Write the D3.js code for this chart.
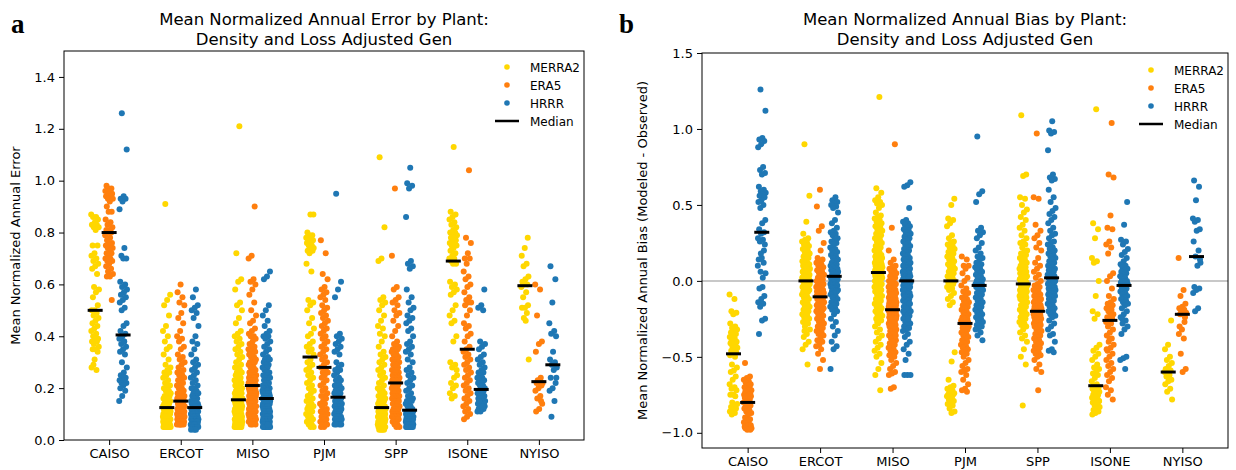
<!DOCTYPE html>
<html>
<head>
<meta charset="utf-8">
<script src="https://cdn.jsdelivr.net/npm/d3@7"></script>
<style>
  body { margin: 0; background: #fff; }
  text { font-family: "DejaVu Sans", sans-serif; fill: #000; }
</style>
</head>
<body>
<script>
var W = 1236, H = 470;

var regions = ["CAISO", "ERCOT", "MISO", "PJM", "SPP", "ISONE", "NYISO"];
var models = ["MERRA2", "ERA5", "HRRR"];
var colors = ["#ffd700", "#ff7f0e", "#1f77b4"];

// values per plant, in hundredths, one sub-array per region (same order as regions)
var errMERRA2 = [
  [87,86,86,85,84,83,83,82,82,81,75,75,72,71,70,69,68,67,66,64,59,58,57,55,52,50,50,49,48,47,46,45,44,43,42,41,40,39,39,38,38,37,36,35,35,34,31,28,27,29],
  [91,56,54,52,48,44,42,40,38,36,35,33,31,29,28,27,26,26,25,24,23,22,21,21,20,19,19,18,18,17,17,16,16,15,15,15,14,14,14,13,13,13,13,12,12,12,12,12,11,11,11,11,11,10,10,10,10,10,9,9,9,9,9,9,8,8,8,8,8,8,7,7,7,7,7,7,6,6,6,6,6,6,5,5,5,5,5,5,5,5],
  [121,72,62,61,58,53,52,50,47,45,42,41,40,39,38,37,36,35,34,33,32,31,30,29,28,28,27,26,26,25,25,24,24,23,23,22,22,21,21,21,20,20,20,19,19,19,18,18,18,18,17,17,17,17,16,16,16,16,16,16,16,16,16,16,16,15,15,15,15,15,14,14,14,14,14,13,13,13,13,13,12,12,12,12,12,11,11,11,11,11,10,10,10,10,10,9,9,9,9,9,9,8,8,8,8,8,8,7,7,7,7,7,7,6,6,6,6,6,6,5,5,5,5,5,5,5,6,7,8,9],
  [87,87,80,79,79,78,78,77,77,76,76,75,75,74,74,73,73,72,68,65,54,53,52,50,47,45,43,41,40,38,37,36,35,34,33,31,30,29,28,27,26,25,24,23,22,21,20,19,18,17,16,15,15,14,13,13,12,12,11,10,10,9,9,8,8,7,6,6,5,5],
  [109,82,70,69,55,54,53,52,50,48,46,44,43,41,40,38,36,34,33,32,31,30,29,28,27,26,25,24,23,22,21,20,20,19,19,18,18,17,17,16,16,15,15,15,14,14,14,13,13,13,12,12,12,12,12,11,11,11,11,11,10,10,10,10,10,10,9,9,9,9,9,9,8,8,8,8,8,8,7,7,7,7,7,7,6,6,6,6,6,6,5,5,5,5,5,5,4,4,4,4],
  [113,88,87,86,85,84,83,82,81,80,80,79,79,78,78,77,77,76,76,75,75,74,73,72,71,70,70,69,68,68,61,60,59,58,57,56,52,50,48,46,45,40,38,30,29,28,25,24,22,21,20,18,17,16,27],
  [78,74,71,68,67,63,62,61,60,60,59,57,55,52,51,51,49,47,31,46]
];
var errERA5 = [
  [98,97,97,96,96,96,95,95,94,94,93,93,92,90,88,88,85,84,83,82,81,81,80,80,79,78,77,76,76,75,75,74,74,73,72,72,71,70,70,69,69,68,67,66,65,64,63,63,54,70],
  [60,57,55,53,52,49,47,45,42,40,39,38,36,35,33,32,31,30,29,28,27,26,26,25,25,24,23,23,22,21,21,20,20,19,19,18,18,18,17,17,17,16,16,16,15,15,15,14,14,14,14,13,13,13,13,12,12,12,12,11,11,11,11,10,10,10,10,10,9,9,9,9,9,8,8,8,8,8,7,7,7,7,7,7,6,6,6,6,6,6],
  [90,71,70,62,61,60,58,56,53,50,48,46,45,43,42,41,40,40,39,38,37,36,36,35,35,34,34,33,33,32,32,31,31,30,30,29,29,28,28,27,27,26,26,26,25,25,25,24,24,24,24,23,23,23,23,22,22,22,22,22,21,21,21,21,21,21,21,20,20,20,20,20,19,19,19,19,19,18,18,18,18,18,17,17,17,17,17,16,16,16,16,15,15,15,15,14,14,14,14,13,13,13,13,12,12,12,12,11,11,11,11,10,10,10,10,9,9,9,9,8,8,8,8,7,7,7,7,6,6,6],
  [77,72,64,62,59,58,57,56,55,54,52,51,50,49,48,47,46,45,44,43,42,41,40,39,38,37,36,35,34,33,32,31,30,29,28,27,26,26,25,24,23,22,21,20,19,18,17,17,16,15,14,14,13,12,12,11,11,10,10,9,9,8,8,7,7,6,6,5,5,6],
  [97,71,59,58,55,54,53,52,50,49,48,46,44,42,40,38,37,36,36,35,35,34,34,33,33,32,32,31,31,30,30,29,29,28,28,27,27,26,26,26,25,25,25,24,24,24,23,23,23,22,22,22,21,21,21,20,20,20,19,19,19,18,18,18,17,17,17,16,16,16,15,15,15,14,14,14,13,13,13,12,12,12,11,11,11,10,10,10,9,9,9,8,8,8,7,7,6,6,5,5],
  [104,78,76,72,70,70,68,65,63,62,60,59,57,55,54,53,53,52,50,48,45,44,43,41,40,38,36,35,34,33,32,31,30,29,28,27,26,25,24,23,22,21,20,19,18,17,16,15,14,13,12,11,10,9,8],
  [60,58,48,38,37,34,24,23,22,22,22,21,20,19,17,16,14,12,11,15]
];
var errHRRR = [
  [126,112,94,93,93,92,89,74,71,70,70,61,60,59,58,57,56,55,54,53,51,50,45,44,42,41,40,39,38,37,36,35,34,33,30,28,26,25,24,24,23,23,22,22,21,20,19,17,15,38],
  [58,55,52,51,50,49,47,44,40,38,37,35,33,31,30,29,28,27,26,25,24,23,22,21,20,20,19,18,18,17,17,16,16,15,15,15,14,14,14,13,13,13,13,12,12,12,12,12,11,11,11,11,10,10,10,10,10,9,9,9,9,9,8,8,8,8,8,8,7,7,7,7,7,7,6,6,6,6,6,6,5,5,5,5,5,5,5,4,4,4],
  [65,63,62,52,50,48,46,44,42,41,40,40,39,38,37,36,35,34,33,32,31,31,30,30,29,29,28,28,27,26,26,25,25,24,24,23,23,22,22,21,21,21,20,20,20,19,19,19,19,18,18,18,18,18,17,17,17,17,17,17,16,16,16,16,16,16,16,16,15,15,15,15,15,14,14,14,14,14,13,13,13,13,13,12,12,12,12,12,11,11,11,11,11,10,10,10,10,10,9,9,9,9,9,9,8,8,8,8,8,8,7,7,7,7,7,7,6,6,6,6,6,6,5,5,5,5,5,5,5,6],
  [95,61,58,55,41,40,39,38,37,36,35,34,33,30,29,28,27,27,26,25,24,23,23,22,21,21,20,20,19,19,18,18,18,17,17,16,16,15,15,15,14,14,14,13,13,13,12,12,12,11,11,11,10,10,10,9,9,9,8,8,8,8,7,7,7,7,6,6,6,6],
  [105,99,98,97,86,69,68,67,66,58,55,53,51,50,48,47,46,45,43,42,40,38,37,36,35,34,33,31,30,28,27,26,25,24,23,22,21,20,19,18,17,16,16,15,15,14,14,13,13,12,12,11,11,11,11,11,10,10,10,10,10,10,9,9,9,9,9,9,9,8,8,8,8,8,8,8,8,7,7,7,7,7,7,7,6,6,6,6,6,6,6,6,5,5,5,5,5,5,5,5],
  [58,52,51,50,38,37,36,35,33,32,31,30,29,28,27,26,26,25,24,24,23,23,22,22,21,21,20,19,19,19,18,18,18,17,17,17,16,16,16,15,15,15,14,14,14,13,13,13,12,12,12,11,11,13,15],
  [67,62,53,45,42,41,40,34,31,30,29,28,27,24,22,20,19,15,9,24]
];

var biasMERRA2 = [
  [-9,-12,-20,-21,-22,-28,-30,-31,-32,-33,-34,-35,-36,-37,-38,-39,-40,-40,-41,-42,-43,-44,-45,-46,-47,-48,-49,-50,-55,-57,-59,-60,-63,-65,-68,-70,-71,-72,-75,-75,-76,-80,-81,-82,-83,-84,-85,-86,-87,-88],
  [90,56,39,31,28,27,26,25,24,23,22,21,20,19,18,17,16,15,14,13,12,12,11,10,10,9,9,8,8,7,7,6,6,5,5,4,4,3,3,3,2,2,1,1,0,0,-1,-1,-2,-2,-3,-3,-4,-4,-5,-5,-6,-6,-7,-7,-8,-9,-10,-11,-12,-13,-14,-15,-16,-17,-18,-19,-20,-21,-22,-23,-24,-25,-26,-27,-28,-30,-32,-35,-37,-40,-42,-45,-55,-33],
  [121,61,58,55,53,52,51,50,48,45,43,42,41,40,39,38,37,36,35,34,33,32,31,30,29,28,27,26,25,24,23,22,21,20,19,18,17,17,16,16,15,15,14,14,13,13,12,12,11,11,10,10,9,9,9,8,8,8,7,7,7,6,6,6,6,5,5,5,4,4,4,3,3,3,2,2,2,1,1,0,0,-1,-1,-2,-2,-3,-3,-4,-4,-5,-5,-6,-6,-7,-8,-9,-10,-11,-12,-13,-14,-15,-16,-17,-18,-19,-20,-21,-22,-23,-24,-25,-26,-28,-30,-32,-34,-36,-38,-40,-42,-44,-46,-48,-50,-54,-58,-62,-72,-27],
  [54,50,41,40,38,36,30,28,26,25,24,23,22,21,20,19,18,17,16,15,14,13,12,11,10,9,8,7,6,5,4,3,2,1,0,0,-1,-2,-3,-4,-5,-6,-8,-10,-12,-14,-16,-47,-53,-65,-69,-70,-71,-72,-73,-74,-74,-75,-75,-76,-76,-77,-78,-79,-80,-81,-82,-84,-86,-87],
  [109,70,69,55,54,50,47,45,42,40,37,35,33,30,28,26,25,24,22,20,19,18,17,16,15,14,13,12,11,10,9,9,8,7,6,6,5,5,4,4,3,3,2,2,1,1,0,0,-1,-1,-2,-2,-3,-3,-4,-4,-5,-5,-6,-6,-7,-7,-8,-8,-9,-9,-10,-10,-11,-11,-12,-12,-13,-13,-14,-15,-16,-17,-18,-19,-20,-21,-22,-23,-24,-25,-26,-27,-28,-29,-30,-32,-34,-36,-38,-40,-45,-50,-55,-82],
  [113,38,34,28,15,13,12,0,-10,-20,-22,-25,-42,-44,-46,-48,-50,-52,-55,-57,-58,-60,-61,-62,-64,-66,-68,-69,-70,-70,-71,-72,-72,-73,-74,-75,-75,-76,-77,-78,-78,-79,-80,-80,-81,-82,-83,-84,-85,-86,-87,-88,-77,-73,-79],
  [-26,-42,-45,-50,-52,-54,-56,-58,-59,-60,-60,-62,-63,-65,-66,-68,-71,-73,-78,-64]
];
var biasERA5 = [
  [-54,-63,-64,-65,-66,-67,-68,-69,-70,-70,-71,-72,-72,-73,-74,-74,-75,-75,-76,-76,-77,-77,-78,-79,-80,-80,-81,-82,-83,-84,-85,-86,-87,-88,-90,-91,-92,-93,-94,-94,-95,-95,-96,-96,-96,-97,-97,-97,-98,-98],
  [60,49,36,33,25,20,15,14,13,12,11,10,9,8,7,6,5,4,3,2,1,0,0,-1,-1,-2,-2,-3,-3,-4,-4,-5,-5,-6,-6,-7,-7,-8,-8,-9,-9,-9,-10,-10,-10,-11,-11,-12,-12,-13,-13,-14,-14,-15,-15,-16,-16,-17,-17,-18,-18,-19,-19,-20,-20,-21,-22,-23,-24,-25,-26,-27,-28,-29,-30,-31,-32,-33,-34,-35,-36,-38,-39,-40,-42,-43,-45,-48,-52,-58],
  [90,35,20,14,12,10,9,8,7,6,5,4,3,2,1,0,-1,-1,-2,-2,-3,-3,-4,-4,-5,-5,-6,-6,-7,-7,-8,-8,-9,-9,-10,-10,-11,-11,-12,-12,-12,-13,-13,-13,-14,-14,-14,-15,-15,-15,-16,-16,-16,-16,-17,-17,-17,-17,-18,-18,-18,-18,-18,-19,-19,-19,-19,-20,-20,-20,-20,-21,-21,-21,-21,-22,-22,-22,-23,-23,-23,-24,-24,-24,-25,-25,-25,-26,-26,-27,-27,-28,-28,-29,-29,-30,-30,-31,-31,-32,-32,-33,-34,-35,-36,-37,-38,-39,-40,-41,-42,-43,-44,-45,-46,-47,-48,-49,-50,-52,-54,-56,-58,-60,-61,-62,-70,-71,-36,-40],
  [16,14,10,10,8,5,2,0,-3,-5,-7,-8,-10,-11,-12,-13,-14,-15,-16,-17,-18,-19,-20,-21,-22,-23,-24,-25,-25,-26,-26,-27,-27,-28,-28,-29,-29,-30,-30,-31,-32,-33,-34,-35,-36,-37,-38,-39,-40,-41,-42,-43,-44,-45,-46,-47,-48,-50,-52,-54,-56,-58,-59,-60,-62,-65,-68,-71,-72,-73],
  [97,55,54,37,33,30,28,25,22,20,15,12,10,8,6,4,2,0,-2,-3,-4,-5,-6,-7,-8,-9,-10,-10,-11,-11,-12,-12,-13,-13,-14,-14,-15,-15,-16,-16,-17,-17,-17,-18,-18,-18,-19,-19,-19,-20,-20,-20,-21,-21,-21,-22,-22,-22,-23,-23,-23,-24,-24,-25,-25,-26,-26,-27,-27,-28,-28,-29,-29,-30,-30,-31,-32,-33,-34,-35,-36,-37,-38,-39,-40,-41,-42,-43,-44,-45,-46,-47,-48,-49,-50,-52,-55,-58,-60,-72],
  [104,70,68,43,35,34,26,24,22,18,5,3,0,-5,-10,-12,-14,-15,-16,-17,-18,-19,-20,-22,-23,-24,-25,-26,-27,-28,-30,-32,-34,-36,-38,-40,-42,-44,-46,-48,-50,-52,-54,-56,-58,-60,-62,-64,-66,-70,-72,-75,-78,-38,-45],
  [15,-6,-10,-15,-17,-18,-19,-20,-21,-22,-22,-24,-32,-35,-38,-48,-58,-60,-30,-27]
];
var biasHRRR = [
  [126,112,94,93,92,90,88,75,73,71,70,62,60,59,58,57,56,55,53,52,50,48,40,38,34,32,31,28,27,26,24,15,14,12,6,5,-4,-5,-10,-12,-14,-15,-17,-25,-26,-35,20,18,10,2],
  [55,53,52,51,50,49,48,45,40,38,35,33,32,31,30,28,27,26,25,24,22,21,20,19,18,17,16,15,14,13,12,11,10,10,9,9,8,8,7,7,6,6,5,4,4,3,2,2,1,1,0,0,-1,-1,-2,-2,-3,-3,-4,-4,-5,-5,-6,-6,-7,-7,-8,-9,-10,-11,-12,-13,-14,-15,-16,-17,-18,-19,-20,-22,-25,-27,-30,-33,-36,-40,-43,-45,-58,-20],
  [65,63,62,48,40,39,38,37,36,35,34,33,32,31,30,29,28,27,26,25,24,23,22,21,20,19,18,17,16,15,14,14,13,13,12,12,11,11,10,10,9,9,8,8,7,7,6,6,5,5,5,4,4,3,3,3,2,2,2,1,1,1,0,0,0,0,0,-1,-1,-1,-2,-2,-2,-3,-3,-3,-4,-4,-5,-5,-6,-6,-7,-7,-8,-8,-9,-9,-10,-10,-11,-11,-12,-12,-13,-13,-14,-15,-16,-17,-18,-19,-20,-21,-22,-23,-24,-25,-26,-27,-28,-29,-30,-31,-32,-33,-35,-37,-40,-42,-45,-48,-52,-62,-62,-62,-15,-18,-20,-25],
  [95,59,57,52,35,33,32,30,28,25,22,20,18,16,15,14,12,11,10,9,8,7,6,5,4,3,2,1,0,0,-1,-1,-2,-2,-3,-3,-4,-4,-5,-5,-6,-7,-8,-9,-10,-11,-12,-13,-14,-15,-16,-17,-18,-19,-20,-21,-22,-23,-24,-25,-26,-27,-28,-29,-30,-31,-32,-34,-36,-39],
  [105,99,98,97,86,70,68,67,66,60,55,52,48,46,44,42,40,38,35,33,31,30,28,26,25,24,22,21,20,19,18,17,16,15,14,13,12,11,10,9,8,8,7,7,6,5,4,4,3,3,2,2,1,1,0,0,-1,-1,-2,-2,-3,-3,-4,-4,-5,-5,-6,-6,-7,-7,-8,-8,-9,-9,-10,-10,-11,-12,-13,-14,-15,-16,-17,-18,-19,-20,-21,-22,-23,-24,-26,-28,-30,-32,-35,-36,-40,-45,-46,-47],
  [52,37,27,26,24,21,19,17,15,13,11,10,9,8,7,6,5,4,3,2,1,0,0,-1,-1,-2,-2,-3,-4,-5,-6,-7,-8,-9,-10,-11,-12,-13,-14,-15,-16,-18,-20,-22,-24,-26,-28,-30,-32,-35,-50,-51,-52,-58,-25],
  [66,62,53,41,40,39,34,33,26,20,16,12,10,-4,-5,-6,-8,-18,-20,14]
];

// medians, per region
var errMedian = [
  [0.50, 0.125, 0.155, 0.32, 0.125, 0.69, 0.595],
  [0.80, 0.15, 0.21, 0.28, 0.22, 0.35, 0.225],
  [0.405, 0.125, 0.16, 0.165, 0.115, 0.195, 0.29]
];
var biasMedian = [
  [-0.48, 0.0, 0.055, 0.0, -0.02, -0.69, -0.60],
  [-0.80, -0.105, -0.19, -0.28, -0.20, -0.26, -0.22],
  [0.32, 0.03, 0.0, -0.03, 0.02, -0.03, 0.16]
];

var errTicks = [0, 0.2, 0.4, 0.6, 0.8, 1.0, 1.2, 1.4];
var biasTicks = [-1.0, -0.5, 0.0, 0.5, 1.0, 1.5];

var svg = d3.select("body").append("svg")
    .attr("width", W)
    .attr("height", H);

function drawPanel(p) {
    var x = d3.scalePoint()
        .domain(regions)
        .range([p.left, p.right])
        .padding(0.63);
    var y = d3.scaleLinear()
        .domain(p.ylim)
        .range([p.bottom, p.top]);
    var step = x.step();
    var hueOff = [-0.195 * step, 0, 0.195 * step];
    var jit = 0.055 * step;

    var g = svg.append("g");

    // zero reference line
    if (p.zeroLine) {
        g.append("line")
            .attr("x1", p.left).attr("x2", p.right)
            .attr("y1", y(0)).attr("y2", y(0))
            .attr("stroke", "#c8c8c8")
            .attr("stroke-width", 2);
    }

    // points
    p.data.forEach(function(series, m) {
        series.forEach(function(vals, r) {
            var cx = x(regions[r]) + hueOff[m];
            g.selectAll(null)
                .data(vals)
                .enter()
                .append("circle")
                .attr("cx", function(d, i) {
                    var u = (i * 0.618034 + r * 0.31 + m * 0.17) % 1;
                    return cx + (u - 0.5) * 2 * jit;
                })
                .attr("cy", function(d) { return y(d / 100); })
                .attr("r", 3)
                .attr("fill", colors[m]);
        });
    });

    // medians
    p.medians.forEach(function(meds, m) {
        g.selectAll(null)
            .data(meds)
            .enter()
            .append("line")
            .attr("x1", function(d, r) { return x(regions[r]) + hueOff[m] - 7.5; })
            .attr("x2", function(d, r) { return x(regions[r]) + hueOff[m] + 7.5; })
            .attr("y1", function(d) { return y(d); })
            .attr("y2", function(d) { return y(d); })
            .attr("stroke", "#000")
            .attr("stroke-width", 3);
    });

    // axes
    var xAxis = g.append("g")
        .attr("transform", "translate(0," + p.bottom + ")")
        .call(d3.axisBottom(x).tickSize(5).tickPadding(4));
    var yAxis = g.append("g")
        .attr("transform", "translate(" + p.left + ",0)")
        .call(d3.axisLeft(y).tickValues(p.ticks).tickFormat(d3.format(".1f")).tickSize(5).tickPadding(4));
    [xAxis, yAxis].forEach(function(a) {
        a.select(".domain").remove();
        a.selectAll("text").style("font-size", "13px").attr("fill", "#000");
        a.selectAll("line").attr("stroke", "#000");
    });

    g.append("rect")
        .attr("x", p.left).attr("y", p.top)
        .attr("width", p.right - p.left)
        .attr("height", p.bottom - p.top)
        .attr("fill", "none")
        .attr("stroke", "#000")
        .attr("stroke-width", 1);

    // titles
    var cxT = (p.left + p.right) / 2;
    g.append("text").attr("x", cxT).attr("y", 25)
        .attr("text-anchor", "middle").style("font-size", "16.5px")
        .text(p.title[0]);
    g.append("text").attr("x", cxT).attr("y", 45)
        .attr("text-anchor", "middle").style("font-size", "16.5px")
        .text(p.title[1]);

    g.append("text")
        .attr("transform", "translate(" + p.ylabelX + "," + ((p.top + p.bottom) / 2) + ") rotate(-90)")
        .attr("text-anchor", "middle")
        .style("font-size", "13px")
        .text(p.ylabel);

    g.append("text")
        .attr("x", p.letterX).attr("y", 33)
        .style("font-family", "'Liberation Serif', 'DejaVu Serif', serif")
        .style("font-weight", "bold")
        .style("font-size", "27px")
        .text(p.letter);

    // legend
    var lg = g.append("g");
    models.forEach(function(name, m) {
        var ly = p.legendY + m * 18;
        lg.append("circle")
            .attr("cx", p.legendX).attr("cy", ly).attr("r", 2.8)
            .attr("fill", colors[m]);
        lg.append("text")
            .attr("x", p.legendX + 23).attr("y", ly + 4.5)
            .style("font-size", "12px")
            .text(name);
    });
    var my = p.legendY + 3 * 18;
    lg.append("line")
        .attr("x1", p.legendX - 12).attr("x2", p.legendX + 12)
        .attr("y1", my).attr("y2", my)
        .attr("stroke", "#000").attr("stroke-width", 2.5);
    lg.append("text")
        .attr("x", p.legendX + 23).attr("y", my + 4.5)
        .style("font-size", "12px")
        .text("Median");
}

drawPanel({
    left: 64, right: 584, top: 51, bottom: 440,
    ylim: [0, 1.5],
    ticks: errTicks,
    data: [errMERRA2, errERA5, errHRRR],
    medians: errMedian,
    zeroLine: false,
    title: ["Mean Normalized Annual Error by Plant:", "Density and Loss Adjusted Gen"],
    ylabel: "Mean Normalized Annual Error",
    ylabelX: 20,
    letter: "a",
    letterX: 11,
    legendX: 507,
    legendY: 67
});

drawPanel({
    left: 702, right: 1228, top: 53, bottom: 448,
    ylim: [-1.1, 1.5],
    ticks: biasTicks,
    data: [biasMERRA2, biasERA5, biasHRRR],
    medians: biasMedian,
    zeroLine: true,
    title: ["Mean Normalized Annual Bias by Plant:", "Density and Loss Adjusted Gen"],
    ylabel: "Mean Normalized Annual Bias (Modeled - Observed)",
    ylabelX: 647,
    letter: "b",
    letterX: 619,
    legendX: 1151,
    legendY: 70
});
</script>
</body>
</html>
